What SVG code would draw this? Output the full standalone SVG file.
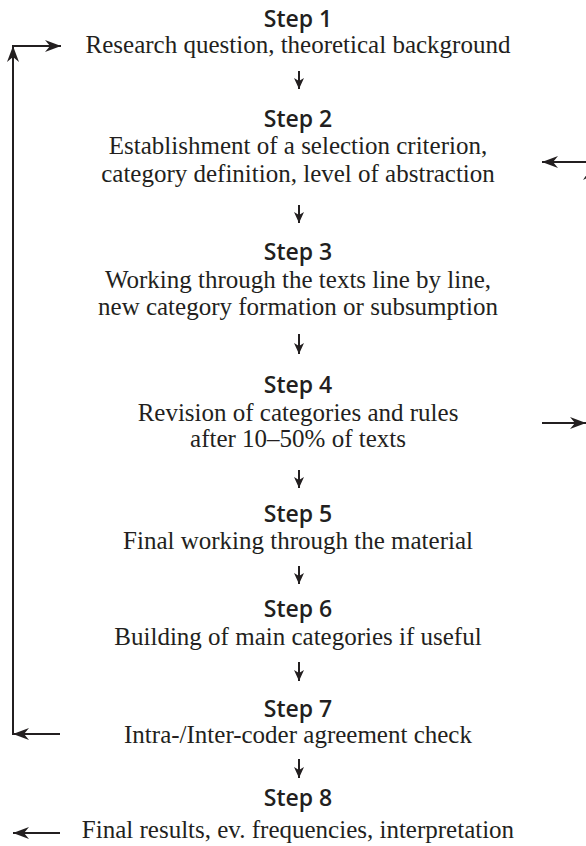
<svg xmlns="http://www.w3.org/2000/svg" width="586" height="846" viewBox="0 0 586 846">
<style>
.step{font-family:"Open Sans","Liberation Sans",sans-serif;font-weight:600;font-size:23px;fill:#231f20;text-anchor:middle}
.body{font-family:"Liberation Serif","DejaVu Serif",serif;font-size:25px;fill:#231f20;text-anchor:middle}
.ln{stroke:#231f20;stroke-width:2;fill:none}
</style>
<defs>
<marker id="big" markerUnits="userSpaceOnUse" viewBox="0 0 16 12" refX="16" refY="6" markerWidth="16" markerHeight="12" orient="auto">
<path d="M0,0 L16,6 L0,12 L5,6 Z" fill="#231f20"/>
</marker>
<marker id="small" markerUnits="userSpaceOnUse" viewBox="0 0 11 10" refX="11" refY="5" markerWidth="11" markerHeight="10" orient="auto">
<path d="M0,0 L11,5 L0,10 L3,5 Z" fill="#231f20"/>
</marker>
</defs>
<g id="step1"><text class="step" x="298" y="27">Step 1</text><text class="body" x="298" y="53">Research question, theoretical background</text></g>
<g id="step2"><text class="step" x="298" y="127">Step 2</text><text class="body" x="298" y="154">Establishment of a selection criterion,</text><text class="body" x="298" y="182">category definition, level of abstraction</text></g>
<g id="step3"><text class="step" x="298" y="260">Step 3</text><text class="body" x="298" y="288">Working through the texts line by line,</text><text class="body" x="298" y="315">new category formation or subsumption</text></g>
<g id="step4"><text class="step" x="298" y="393">Step 4</text><text class="body" x="298" y="421">Revision of categories and rules</text><text class="body" x="298" y="447">after 10–50% of texts</text></g>
<g id="step5"><text class="step" x="298" y="522">Step 5</text><text class="body" x="298" y="549">Final working through the material</text></g>
<g id="step6"><text class="step" x="298" y="617">Step 6</text><text class="body" x="298" y="645">Building of main categories if useful</text></g>
<g id="step7"><text class="step" x="298" y="717">Step 7</text><text class="body" x="298" y="743">Intra-/Inter-coder agreement check</text></g>
<g id="step8"><text class="step" x="298" y="806">Step 8</text><text class="body" x="298" y="838">Final results, ev. frequencies, interpretation</text></g>
<g id="connectors">
<line class="ln" x1="299" y1="71" x2="299" y2="89" marker-end="url(#small)"/>
<line class="ln" x1="299" y1="205" x2="299" y2="223" marker-end="url(#small)"/>
<line class="ln" x1="299" y1="334" x2="299" y2="354" marker-end="url(#small)"/>
<line class="ln" x1="299" y1="470" x2="299" y2="488" marker-end="url(#small)"/>
<line class="ln" x1="299" y1="566" x2="299" y2="584" marker-end="url(#small)"/>
<line class="ln" x1="299" y1="662" x2="299" y2="681" marker-end="url(#small)"/>
<line class="ln" x1="299" y1="759" x2="299" y2="778" marker-end="url(#small)"/>
<line class="ln" x1="60" y1="734" x2="13" y2="734" marker-end="url(#big)"/>
<line class="ln" x1="13" y1="735" x2="13" y2="46" marker-end="url(#big)"/>
<line class="ln" x1="12" y1="46" x2="61" y2="46" marker-end="url(#big)"/>
<line class="ln" x1="60" y1="833" x2="13" y2="833" marker-end="url(#big)"/>
<line class="ln" x1="586" y1="162" x2="542" y2="162" marker-end="url(#big)"/>
<line class="ln" x1="542" y1="423" x2="586" y2="423" marker-end="url(#big)"/>
<path d="M591,168 L583,180 L591,176 Z" fill="#231f20"/>
</g>
</svg>
